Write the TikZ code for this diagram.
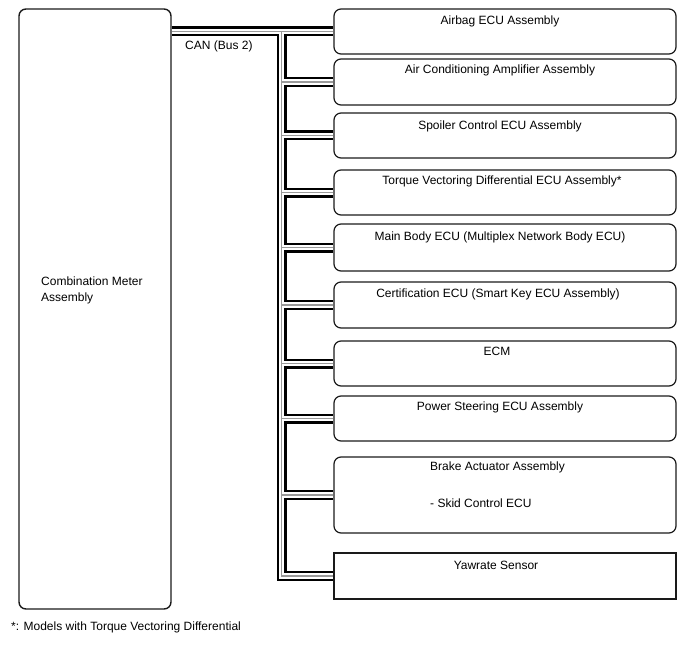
\documentclass[tikz,border=0pt]{standalone}
\usepackage{fontspec}
\setmainfont{Liberation Sans}
\usepackage{xcolor}
\definecolor{cLine}{HTML}{1A1A1A}
\definecolor{cWire}{HTML}{000000}
\definecolor{cCore}{HTML}{9A9A9A}
\usepackage{tikz}
\usetikzlibrary{positioning,calc}
\tikzset{
  node-meter/.style={draw=cLine,line width=1.4pt,rounded corners=7pt,
    minimum width=152pt,minimum height=600pt,inner sep=0pt},
  node-ecu/.style={draw=cLine,line width=1.2pt,rounded corners=7pt,
    minimum width=342pt,minimum height=45pt,inner sep=0pt},
  node-sensor/.style={draw=cLine,line width=1.1pt,
    minimum width=342pt,minimum height=46pt,inner sep=0pt},
  node-text/.style={font=\fontsize{12}{16}\selectfont,inner sep=0pt,anchor=base},
  % CAN twisted pair: black outer, white gap, gray core
  bus-layer/.style 2 args={line width=#1,draw=#2},
}

\begin{document}
\begin{tikzpicture}[x=1pt,y=-1pt]
  \useasboundingbox (0,0) rectangle (688,658);
  \node[node-meter] (meter) at (95,309) {};
  \node[node-text,anchor=west,align=left] (meter-t) at (41,290) {Combination Meter\\Assembly};

  \node[node-ecu] (airbag) at (505,31.5) {};
  \node[node-ecu,minimum height=46pt] (aircon) at (505,82) {};
  \node[node-ecu] (spoiler) at (505,135.5) {};
  \node[node-ecu] (torque) at (505,192.5) {};
  \node[node-ecu,minimum height=47pt] (body) at (505,247.5) {};
  \node[node-ecu,minimum height=46pt] (cert) at (505,305) {};
  \node[node-ecu] (ecm) at (505,363.5) {};
  \node[node-ecu] (steer) at (505,418.5) {};
  \node[node-ecu,minimum height=76pt] (brake) at (505,495) {};
  \node[node-sensor] (yaw) at (505,576) {};

  \node[node-text] (airbag-t) at (500,24.5) {Airbag ECU Assembly};
  \node[node-text] (aircon-t) at (500,73.5) {Air Conditioning Amplifier Assembly};
  \node[node-text] (spoiler-t) at (500,129.5) {Spoiler Control ECU Assembly};
  \node[node-text] (torque-t) at (502,184) {Torque Vectoring Differential ECU Assembly*};
  \node[node-text] (body-t) at (500,240) {Main Body ECU (Multiplex Network Body ECU)};
  \node[node-text] (cert-t) at (498,297) {Certification ECU (Smart Key ECU Assembly)};
  \node[node-text] (ecm-t) at (497,355.5) {ECM};
  \node[node-text] (steer-t) at (500,410.5) {Power Steering ECU Assembly};
  \node[node-text,anchor=base west] (brake-t) at (430,470) {Brake Actuator Assembly};
  \node[node-text,anchor=base west] (skid-t) at (430,507) {- Skid Control ECU};
  \node[node-text] (yaw-t) at (496,569.5) {Yawrate Sensor};

  \node[node-text,anchor=base west] (can-t) at (185,50) {CAN (Bus 2)};
  \node[node-text,anchor=base west] (note-t) at (11,630.7) {*: Models with Torque Vectoring Differential};

  \coordinate (trunk) at (281.5,31.5);
  \foreach \w/\c in {10pt/cWire,5.6pt/white,1.2pt/cCore} {
    \draw[bus-layer={\w}{\c}] (meter.east |- airbag.west) -- (airbag.west);
    \foreach \n in {aircon,spoiler,torque,body,cert,ecm,steer,brake,yaw}
      \draw[bus-layer={\w}{\c}] (trunk) |- (\n.west);
  }
\end{tikzpicture}
\end{document}
